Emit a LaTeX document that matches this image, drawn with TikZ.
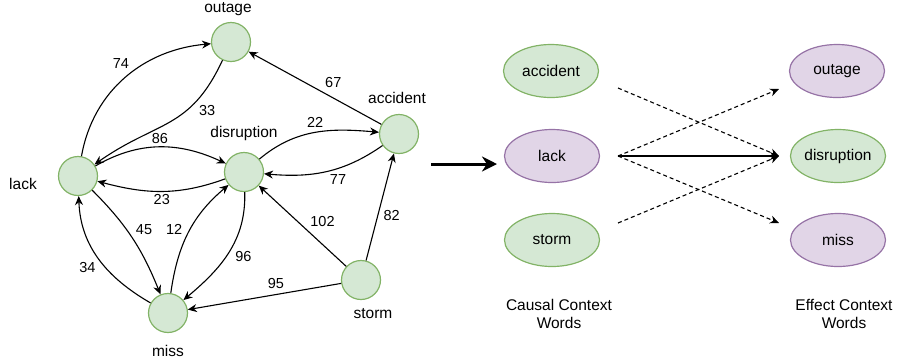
\documentclass[tikz,border=0pt]{standalone}
\usepackage{fontspec}
\setmainfont{Liberation Sans}
\usetikzlibrary{arrows.meta,shapes.geometric}
\definecolor{gfill}{HTML}{D5E8D4}
\definecolor{gline}{HTML}{82B366}
\definecolor{pfill}{HTML}{E1D5E7}
\definecolor{pline}{HTML}{9673A6}
\newcommand{\wordfont}{\fontsize{15.5}{18}\selectfont}
\newcommand{\numfont}{\fontsize{14.5}{17}\selectfont}
\tikzset{
        word/.style={circle, draw=gline, fill=gfill, line width=1.2pt, minimum size=39pt, inner sep=0pt},
        gword/.style={ellipse, draw=gline, fill=gfill, line width=1.2pt, minimum width=95pt, minimum height=53pt, inner sep=0pt, font=\wordfont},
        pword/.style={ellipse, draw=pline, fill=pfill, line width=1.2pt, minimum width=95pt, minimum height=53pt, inner sep=0pt, font=\wordfont},
        wtext/.style={font=\wordfont, inner sep=0pt},
        weight/.style={font=\numfont, auto, inner sep=3pt},
        link/.style={-{Stealth[length=9pt,width=8pt]}, line width=1.1pt},
        hint/.style={link, dash pattern=on 4pt off 3pt},
        bigarrow/.style={-{Stealth[length=15pt,width=15pt]}, line width=3pt}
          }
\begin{document}
\begin{tikzpicture}[x=1pt,y=-1pt]
        \useasboundingbox (0,0) rectangle (898,360);
        % co-occurrence graph
        \node[word] (outage) at (231,42) {};
        \node[word] (accident) at (399,134) {};
        \node[word] (disruption) at (244,172) {};
        \node[word] (lack) at (78,176) {};
        \node[word] (miss) at (168,313) {};
        \node[word] (storm) at (361,280) {};
        \node[wtext] (outage-t) at (228,9) {outage};
        \node[wtext] (accident-t) at (397,98) {accident};
        \node[wtext] (disruption-t) at (244,133) {disruption};
        \node[wtext] (lack-t) at (23,184) {lack};
        \node[wtext] (miss-t) at (168,351) {miss};
        \node[wtext] (storm-t) at (373,314) {storm};
        \draw[link] (lack) to[out=80, in=185] node[weight, pos=0.55] {74} (outage);
        \draw[link] (outage) to[out=245, in=35, looseness=1.2] node[weight, pos=0.27] {33} (lack);
        \draw[link] (accident) -- node[weight, swap, pos=0.45] {67} (outage);
        \draw[link] (lack) to[out=30, in=155] node[weight] {86} (disruption);
        \draw[link] (disruption) to[out=200, in=-15] node[weight] {23} (lack);
        \draw[link] (disruption) to[out=40, in=175] node[weight, pos=0.6] {22} (accident);
        \draw[link] (accident) to[out=215, in=-5] node[weight] {77} (disruption);
        \draw[link] (lack) to[out=-45, in=112] node[weight] {45} (miss);
        \draw[link] (miss) to[out=150, in=-88] node[weight] {34} (lack);
        \draw[link] (miss) to[out=82, in=220] node[weight, pos=0.45] {12} (disruption);
        \draw[link] (disruption) to[out=-88, in=40] node[weight, pos=0.45] {96} (miss);
        \draw[link] (storm) -- node[weight, swap, pos=0.45] {102} (disruption);
        \draw[link] (storm) -- node[weight, swap] {82} (accident);
        \draw[link] (storm) -- node[weight, swap, pos=0.35] {95} (miss);
        % big arrow
        \coordinate (from) at (431,164);
        \coordinate (to) at (497,164);
        \draw[bigarrow] (from) -- (to);
        % context words
        \node[gword] (c-accident) at (551,71) {accident};
        \node[pword] (c-lack) at (552,156) {lack};
        \node[gword] (c-storm) at (552,240) {storm};
        \node[pword] (e-outage) at (837,71) {outage};
        \node[gword] (e-disruption) at (838,156) {disruption};
        \node[pword] (e-miss) at (838,240) {miss};
        \coordinate (sa) at (618,88);
        \coordinate (sl) at (618,156);
        \coordinate (ss) at (618,223);
        \coordinate (to-o) at (779,89);
        \coordinate (to-d) at (779,156);
        \coordinate (to-m) at (779,223);
        \draw[hint] (sa) -- (to-d);
        \draw[hint] (sl) -- (to-o);
        \draw[link] (sl) -- (to-d);
        \draw[hint] (sl) -- (to-m);
        \draw[hint] (ss) -- (to-d);
        \node[wtext, align=center] (causal) at (559,314) {Causal Context\\Words};
        \node[wtext, align=center] (effect) at (844,314) {Effect Context\\Words};
\end{tikzpicture}
\end{document}
